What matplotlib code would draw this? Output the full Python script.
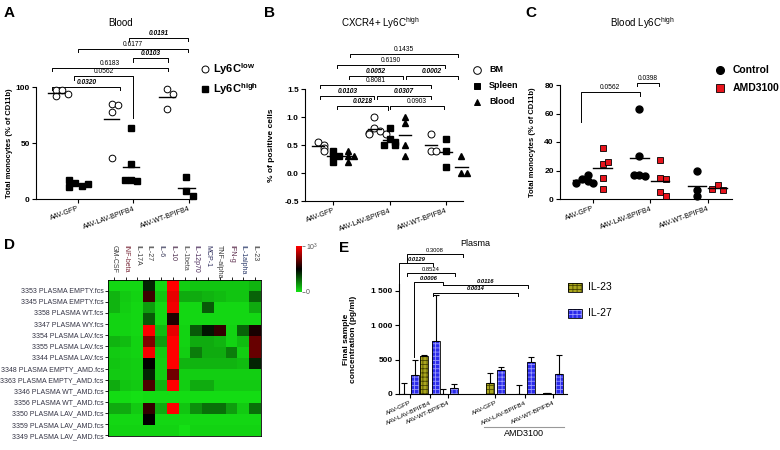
import numpy as np
import matplotlib
matplotlib.use("Agg")
import matplotlib.pyplot as plt
from matplotlib.colors import LinearSegmentedColormap
from matplotlib.patches import Rectangle
from matplotlib.transforms import blended_transform_factory

plt.rcParams['font.family'] = ['Liberation Sans', 'DejaVu Sans']
plt.rcParams['mathtext.fontset'] = 'custom'
plt.rcParams['mathtext.rm'] = 'Liberation Sans'
plt.rcParams['mathtext.bf'] = 'Liberation Sans:bold'
plt.rcParams['axes.linewidth'] = 0.8
plt.rcParams['hatch.linewidth'] = 0.6

groups = ["AAV-GFP", "AAV-LAV-BPIFB4", "AAV-WT-BPIFB4"]

# A - Blood, Ly6C low / high (% of CD11b)
a_low = [[97, 97, 92, 94], [85, 84, 78, 37], [98, 94, 80]]
a_high = [[14, 12, 11, 13, 17], [63, 31, 17, 16, 17], [20, 7, 2.4]]

# B - CXCR4+ Ly6C high (% positive cells)
b_bm = [[0.55, 0.5, 0.45, 0.4], [1.0, 0.8, 0.75, 0.72, 0.7, 0.7], [0.7, 0.4, 0.4]]
b_spleen = [[0.4, 0.3, 0.3, 0.2], [0.8, 0.6, 0.55, 0.5, 0.5], [0.6, 0.4, 0.1]]
b_blood = [[0.4, 0.3, 0.3, 0.2], [0.9, 1.0, 0.5, 0.3], [0.3, 0.0, 0.0]]

# C - Blood Ly6C high, control vs AMD3100
c_ctrl = [[14, 16.5, 12.5, 11.5, 11.5], [63, 30.4, 16.8, 16.4, 16.8], [19.4, 6.5, 1.9]]
c_amd = [[36, 24.3, 25.7, 14.5, 7], [27.4, 14.5, 14, 5.1, 2.3], [10, 6.5, 7]]

# D - heatmap (scaled 0..1 of 10^3)
hm_rows = ["3353 PLASMA EMPTY.fcs", "3345 PLASMA EMPTY.fcs", "3358 PLASMA WT.fcs",
           "3347 PLASMA WY.fcs", "3354 PLASMA LAV.fcs", "3355 PLASMA LAV.fcs",
           "3344 PLASMA LAV.fcs", "3348 PLASMA EMPTY_AMD.fcs", "3363 PLASMA EMPTY_AMD.fcs",
           "3346 PLASMA WT_AMD.fcs", "3356 PLASMA WT_AMD.fcs", "3350 PLASMA LAV_AMD.fcs",
           "3359 PLASMA LAV_AMD.fcs", "3349 PLASMA LAV_AMD.fcs"]
hm_cols = ["GM-CSF", "INF-beta", "IL-17A", "IL-27", "IL-6", "IL-10", "IL-1beta",
           "IL-12p70", "MCP-1", "TNF-alpha", "IFN-g", "IL-1alpha", "IL-23"]
hm_vals = [
    [.02, .02, .02, .42, .02, 1.0, .04, .06, .06, .06, .06, .06, .10],
    [.10, .05, .03, .62, .06, .95, .12, .12, .10, .08, .06, .06, .28],
    [.10, .04, .02, .15, .02, .97, .02, .02, .30, .02, .02, .02, .12],
    [.03, .03, .02, .30, .02, .56, .02, .02, .02, .02, .02, .02, .02],
    [.03, .03, .02, 1.0, .08, .95, .03, .30, .45, .60, .03, .28, .55],
    [.10, .08, .03, .75, .15, 1.0, .03, .12, .12, .10, .03, .08, .70],
    [.05, .04, .03, .98, .05, 1.0, .04, .22, .12, .12, .22, .04, .70],
    [.06, .05, .04, .50, .04, 1.0, .10, .10, .10, .10, .10, .08, .42],
    [.05, .05, .04, .42, .04, .72, .04, .04, .04, .04, .04, .04, .04],
    [.12, .06, .05, .65, .10, 1.0, .04, .12, .12, .05, .05, .05, .05],
    [.01, .01, .00, .01, .01, .01, .01, .01, .01, .01, .01, .01, .01],
    [.12, .12, .05, .60, .12, 1.0, .06, .18, .25, .25, .15, .05, .25],
    [.02, .02, .02, .50, .02, .02, .02, .02, .02, .02, .02, .02, .02],
    [.03, .03, .03, .03, .03, .03, .00, .03, .03, .03, .03, .03, .03],
]

# E - Plasma (pg/ml), mean and upper SD
e_labels = groups + groups
il23 = [0, 555, 0, 160, 0, 10]
il23_sd = [160, 11, 68, 150, 131, 5]
il27 = [280, 775, 82, 348, 469, 286]
il27_sd = [214, 658, 63, 49, 73, 275]


def spread(vals, tol, step):
    offs = np.zeros(len(vals))
    for i, v in enumerate(vals):
        k = sum(abs(vals[j] - v) < tol for j in range(i))
        if k:
            offs[i] = step * ((k + 1) // 2) * (1 if k % 2 else -1)
    return offs


def dots(ax, x, vals, tol, step, hw, **kw):
    xs = x + spread(vals, tol, step)
    ax.plot(xs, vals, ls='none', clip_on=False, zorder=3, **kw)
    ax.plot([x - hw, x + hw], [np.mean(vals)] * 2, color='k', lw=1, zorder=4, clip_on=False)


def bracket(ax, x1, x2, y, l1, l2, txt, sig, fs=4.8):
    ax.plot([x1, x1, x2, x2], [l1, y, y, l2], color='k', lw=0.7, clip_on=False)
    ax.annotate(txt, ((x1 + x2) / 2, y), xytext=(0, 0.8), textcoords='offset points',
                ha='center', va='bottom', fontsize=fs,
                fontweight='bold' if sig else 'normal',
                fontstyle='italic' if sig else 'normal', annotation_clip=False)


def style(ax, labels, ticks):
    ax.spines['top'].set_visible(False)
    ax.spines['right'].set_visible(False)
    ax.set_xticks(ticks)
    ax.set_xticklabels(labels, rotation=20, ha='right', rotation_mode='anchor', fontsize=5)
    ax.tick_params(length=3, width=0.8, pad=1.5)
    for t in ax.get_yticklabels():
        t.set_fontweight('bold')
        t.set_fontsize(6)


fig = plt.figure(figsize=(7.8, 4.5), dpi=100)
W, H = 780, 450


def rect(l, t, r, b):
    return [l / W, 1 - b / H, (r - l) / W, (b - t) / H]


g = np.arange(3)

# ---- A
axA = fig.add_axes(rect(36, 87, 192, 199))
for i in range(3):
    dots(axA, g[i] - 0.39, a_low[i], 5, 0.11, 0.14, marker='o', ms=4.8, mfc='white', mec='k', mew=0.7)
    dots(axA, g[i] - 0.04, a_high[i], 5, 0.11, 0.15, marker='s', ms=4.5, mfc='k', mec='k')
axA.set_xlim(-0.75, 2.06)
axA.set_ylim(0, 100)
axA.set_yticks([0, 50, 100])
style(axA, groups, g)
axA.set_ylabel("Total monocytes (% of CD11b)", fontsize=5.5, fontweight='bold')
axA.yaxis.set_label_coords(-0.15, 0.5)
for b in [(-0.46, 0.77, 100, 97, 97, "0.0320", True),
          (-0.06, 1.0, 109.5, 106.5, 72, "0.0562", False),
          (-0.46, 1.63, 117, 114, 114, "0.6183", False),
          (1.0, 1.63, 125.6, 122.6, 122.6, "0.0103", True),
          (0.0, 1.99, 134, 131, 131, "0.6177", False),
          (0.93, 1.99, 143.7, 140.7, 140.7, "0.0191", True)]:
    bracket(axA, *b)

# ---- B
axB = fig.add_axes(rect(305, 89, 463, 201))
for i in range(3):
    dots(axB, g[i] - 0.27, b_bm[i], 0.09, 0.1, 0.11, marker='o', ms=5, mfc='white', mec='k', mew=0.7)
    dots(axB, g[i], b_spleen[i], 0.09, 0.1, 0.11, marker='s', ms=4, mfc='k', mec='k')
    dots(axB, g[i] + 0.27, b_blood[i], 0.09, 0.1, 0.11, marker='^', ms=3.8, mfc='k', mec='k')
axB.set_xlim(-0.5, 2.3)
axB.set_ylim(-0.5, 1.5)
axB.set_yticks([-0.5, 0, 0.5, 1.0, 1.5])
axB.set_yticklabels(["-0.5", "0.0", "0.5", "1.0", "1.5"])
style(axB, groups, g)
axB.set_ylabel("% of positive cells", fontsize=6, fontweight='bold')
axB.yaxis.set_label_coords(-0.19, 0.5)
for b in [(-0.23, 0.73, 1.38, 1.33, 1.33, "0.0103", True),
          (0.78, 1.73, 1.38, 1.33, 1.33, "0.0307", True),
          (0.07, 0.97, 1.20, 1.15, 1.12, "0.0218", True),
          (1.0, 1.96, 1.20, 1.15, 1.15, "0.0903", False),
          (-0.23, 1.73, 1.57, 1.52, 1.52, "0.8081", False),
          (0.28, 1.24, 1.73, 1.68, 1.68, "0.0052", True),
          (1.29, 2.21, 1.73, 1.68, 1.68, "0.0002", True),
          (0.07, 1.98, 1.92, 1.87, 1.87, "0.6190", False),
          (0.3, 2.21, 2.12, 2.07, 2.07, "0.1435", False)]:
    bracket(axB, *b)

# ---- C
axC = fig.add_axes(rect(560, 85, 732, 199))
for i in range(3):
    dots(axC, g[i] - 0.19, c_ctrl[i], 4, 0.1, 0.16, marker='o', ms=5, mfc='k', mec='k')
    dots(axC, g[i] + 0.17, c_amd[i], 4, 0.1, 0.16, marker='s', ms=5, mfc='#e8141c', mec='k', mew=0.6)
axC.set_xlim(-0.57, 2.42)
axC.set_ylim(0, 80)
axC.set_yticks([0, 20, 40, 60, 80])
style(axC, groups, g)
axC.set_ylabel("Total monocytes (% of CD11b)", fontsize=5.5, fontweight='bold')
axC.yaxis.set_label_coords(-0.14, 0.5)
bracket(axC, -0.21, 0.82, 75, 54, 72, "0.0562", False)
bracket(axC, 0.77, 1.15, 81.2, 79, 79, "0.0398", False)

# ---- D heatmap
cmap = LinearSegmentedColormap.from_list("gbr", ["#14e014", "#000000", "#ff0000"])
axD = fig.add_axes(rect(108, 280, 261, 436))
axD.imshow(np.array(hm_vals), cmap=cmap, vmin=0, vmax=1, aspect='auto',
           extent=(-0.5, len(hm_cols) - 0.5, len(hm_rows) - 0.5, -0.5), interpolation='nearest')
axD.set_yticks(np.arange(len(hm_rows)) + 0.45)
axD.set_yticklabels(hm_rows, fontsize=5, color='#333344')
axD.xaxis.tick_top()
axD.set_xticks(np.arange(len(hm_cols)))
axD.set_xticklabels([])
axD.tick_params(length=2, width=0.6, pad=1)
tr = blended_transform_factory(axD.transData, axD.transAxes)
col_colors = ['#3a3a3a', '#7a2a3a', '#3a3a3a', '#3a3a3a', '#3a3a5a', '#4a2a4a', '#4a4a4a',
              '#4a2a5a', '#2a2a5a', '#3a3a3a', '#5a2a4a', '#2a3a6a', '#3a3a3a']
for j, c in enumerate(hm_cols):
    axD.text(j, 1.225, c, transform=tr, rotation=-90, ha='center', va='top',
             fontsize=5, color=col_colors[j])
for s in axD.spines.values():
    s.set_linewidth(0.6)

# colour bar
axCb = fig.add_axes(rect(296, 246, 302, 292))
axCb.imshow(np.linspace(1, 0, 100)[:, None], cmap=cmap, aspect='auto', extent=(0, 1, 0, 1))
axCb.set_xticks([])
axCb.yaxis.tick_right()
axCb.set_yticks([0, 1])
axCb.set_yticklabels(["0", "10$^3$"], fontsize=5, color='#555555')
axCb.tick_params(length=2, width=0.5, pad=1, colors='#555555')
for s in axCb.spines.values():
    s.set_visible(False)

# ---- E bars
pos = np.array([0, 1.02, 1.93, 4.3, 5.78, 7.18])
axE = fig.add_axes(rect(399, 284, 567, 394))
bw = 0.4
for off, vals, sd, fc, hc in [(-0.28, il23, il23_sd, '#aaa61e', '#4a4800'),
                               (0.28, il27, il27_sd, '#2b2bea', '#9a9aff')]:
    axE.bar(pos + off, vals, bw, facecolor=fc, edgecolor=hc, hatch='++++', lw=0)
    axE.bar(pos + off, vals, bw, fill=False, edgecolor='k', lw=0.6)
    axE.errorbar(pos + off, vals, yerr=[np.zeros(len(sd)), sd], fmt='none', ecolor='k',
                 elinewidth=0.8, capsize=2, capthick=0.8)
axE.set_xlim(-0.53, 7.88)
axE.set_ylim(0, 1600)
axE.set_yticks([0, 500, 1000, 1500])
axE.set_yticklabels(["0", "500", "1 000", "1 500"])
style(axE, e_labels, pos)
for t in axE.get_xticklabels():
    t.set_rotation(25)
    t.set_fontsize(4.6)
axE.set_ylabel("Final sample\nconcentration (pg/ml)", fontsize=6, fontweight='bold', linespacing=1.0)
axE.yaxis.set_label_coords(-0.25, 0.5)
for b in [(-0.14, 2.69, 2033, 1907, 1994, "0.3008", False),
          (-0.51, 1.19, 1907, 880, 1858, "0.0129", True),
          (-0.14, 2.27, 1762, 1715, 1715, "0.8524", False),
          (0.22, 1.69, 1631, 542, 1583, "0.0006", True),
          (1.69, 5.94, 1583, 1583, 1535, "0.0116", True),
          (1.19, 5.44, 1476, 1430, 1430, "0.0014", True)]:
    bracket(axE, *b, fs=4.2)
trE = blended_transform_factory(axE.transData, axE.transAxes)
axE.plot([pos[3] - 0.55, pos[5] + 0.55], [-0.3, -0.3], transform=trE, color='#999999',
         lw=0.8, clip_on=False)
axE.text((pos[3] + pos[5]) / 2, -0.36, "AMD3100", transform=trE, ha='center', va='center',
         fontsize=6.5)

# ---- overlay: panel letters, titles, legends
ov = fig.add_axes([0, 0, 1, 1], zorder=10)
ov.set_xlim(0, W)
ov.set_ylim(H, 0)
ov.axis('off')
for x, y, s in [(4, 13, "A"), (264, 13, "B"), (525, 13, "C"), (4, 245, "D"), (339, 248, "E")]:
    ov.text(x, y, s, fontsize=11, fontweight='bold', va='center')
ov.text(121, 23, "Blood", fontsize=7, ha='center', va='center')
ov.text(380, 23, "CXCR4+ Ly6C$^{\\mathrm{high}}$", fontsize=7, ha='center', va='center')
ov.text(642, 23, "Blood Ly6C$^{\\mathrm{high}}$", fontsize=7, ha='center', va='center')
ov.text(475, 243, "Plasma", fontsize=6.5, ha='center', va='center')

ov.plot(205, 69, 'o', ms=5, mfc='white', mec='k', mew=0.7)
ov.text(213, 69, "Ly6C$^{\\mathbf{low}}$", fontsize=8, fontweight='bold', va='center')
ov.plot(205, 89, 's', ms=5, mfc='k', mec='k')
ov.text(213, 89, "Ly6C$^{\\mathbf{high}}$", fontsize=8, fontweight='bold', va='center')

for y, m, ms, mfc, lab in [(70, 'o', 5.5, 'white', "BM"), (86, 's', 4, 'k', "Spleen"),
                           (102, '^', 4, 'k', "Blood")]:
    ov.plot(477, y, m, ms=ms, mfc=mfc, mec='k', mew=0.7)
    ov.text(489, y, lab, fontsize=6.5, fontweight='bold', va='center')

ov.plot(720, 70, 'o', ms=5.5, mfc='k', mec='k')
ov.text(733, 70, "Control", fontsize=7.5, fontweight='bold', va='center')
ov.plot(720, 88, 's', ms=5.5, mfc='#e8141c', mec='k', mew=0.6)
ov.text(733, 88, "AMD3100", fontsize=7.5, fontweight='bold', va='center')

for y, fc, hc, lab in [(287, '#aaa61e', '#4a4800', "IL-23"), (313, '#2b2bea', '#9a9aff', "IL-27")]:
    ov.add_patch(Rectangle((568, y - 4.5), 14, 9, facecolor=fc, edgecolor=hc, hatch='++++', lw=0))
    ov.add_patch(Rectangle((568, y - 4.5), 14, 9, fill=False, edgecolor='k', lw=0.6))
    ov.text(588, y, lab, fontsize=7.5, va='center')

fig.savefig("out.png", dpi=100)
